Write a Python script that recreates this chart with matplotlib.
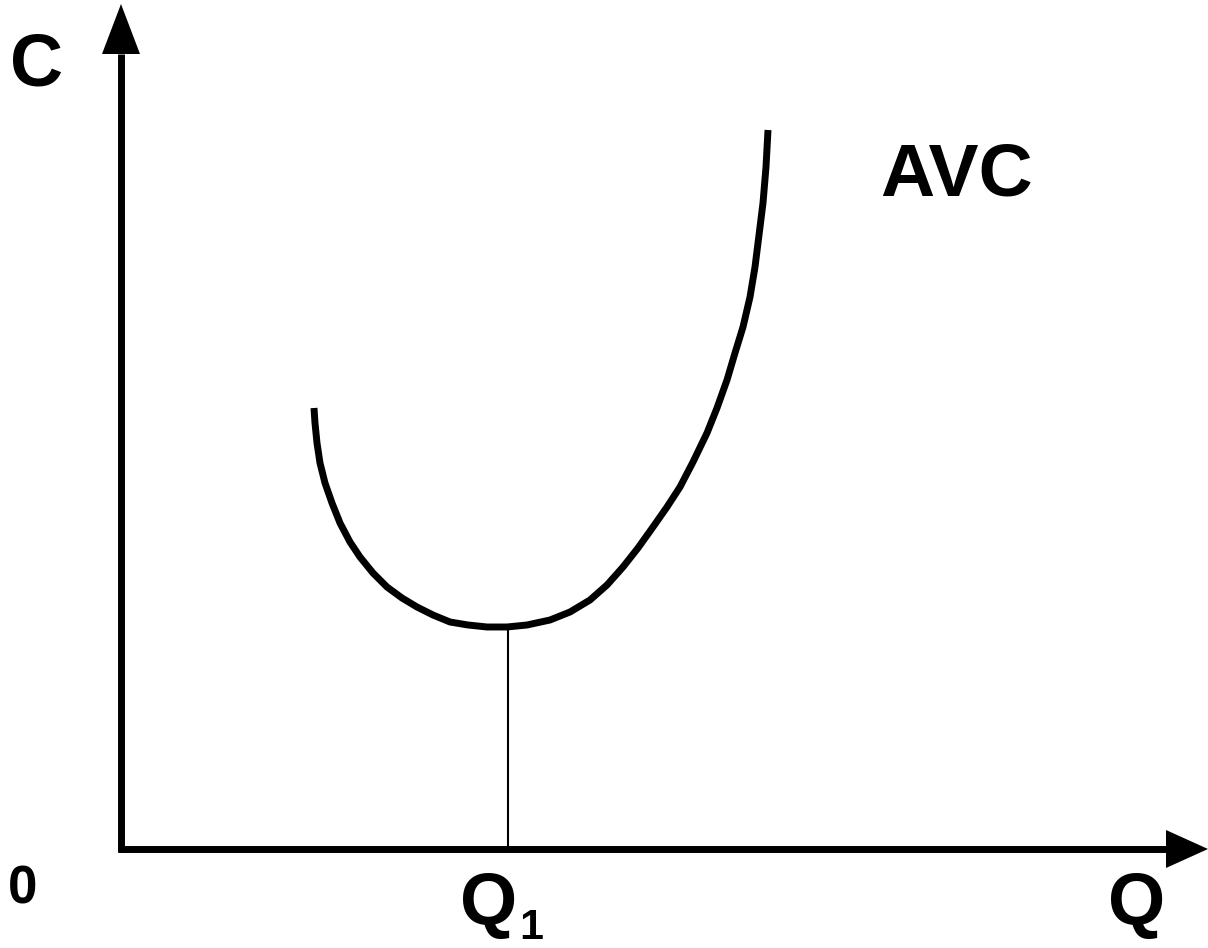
import matplotlib.pyplot as plt

plt.rcParams['font.family'] = ['Liberation Sans', 'DejaVu Sans']

# AVC curve (pixel units, y grows downward)
avc_x = [314, 315, 317, 320, 325, 332, 340, 350, 360, 373, 387, 402, 417, 433, 450, 468, 487, 507,
         527, 550, 570, 590, 607, 623, 638, 653, 667, 680, 693, 707, 717, 727, 735, 743, 750, 755, 759, 763, 766, 768]
avc_y = [408, 423, 443, 463, 483, 503, 523, 542, 557, 573, 587, 598, 607, 615, 622, 625, 627, 627,
         625, 620, 612, 600, 585, 567, 548, 527, 507, 487, 462, 433, 408, 380, 353, 327, 297, 267, 235, 203, 167, 130]

# axes geometry
origin = (121, 849)
y_top = 4
x_right = 1208
q1 = 508
q1_c = 627

fig = plt.figure(figsize=(12.08, 9.48), dpi=100)
ax = fig.add_axes([0, 0, 1, 1])
ax.set_xlim(0, 1208)
ax.set_ylim(948, 0)
ax.axis('off')

head_len = 50
head_half = 19
lw_axis = 5.0

# vertical axis + arrow head
ax.plot([origin[0], origin[0]], [origin[1] + 3, y_top + head_len], color='black', lw=lw_axis, solid_capstyle='butt')
ax.fill([origin[0] - head_half, origin[0], origin[0] + head_half],
        [y_top + head_len, y_top, y_top + head_len], color='black', lw=0)

# horizontal axis + arrow head
ax.plot([origin[0] - 3, x_right - head_len + 10], [origin[1], origin[1]], color='black', lw=lw_axis, solid_capstyle='butt')
ax.fill([x_right - head_len + 8, x_right, x_right - head_len + 8],
        [origin[1] - head_half, origin[1], origin[1] + head_half], color='black', lw=0)

# AVC curve
ax.plot(avc_x, avc_y, color='black', lw=5.0, solid_capstyle='butt', solid_joinstyle='round')

# drop line at Q1
ax.plot([q1, q1], [q1_c, origin[1]], color='black', lw=1.5)

# labels
ax.text(10, 85, 'C', fontsize=53, fontweight='bold', va='baseline', ha='left')
ax.text(880, 195, 'AVC', fontsize=54, fontweight='bold', va='baseline', ha='left')
ax.text(8, 904, '0', fontsize=38, fontweight='bold', va='baseline', ha='left')
ax.text(1108, 924, 'Q', fontsize=53, fontweight='bold', va='baseline', ha='left')
ax.text(460, 924, 'Q', fontsize=53, fontweight='bold', va='baseline', ha='left')
ax.text(519, 939, '1', fontsize=31, fontweight='bold', va='baseline', ha='left')

fig.savefig('out.png', dpi=100)
